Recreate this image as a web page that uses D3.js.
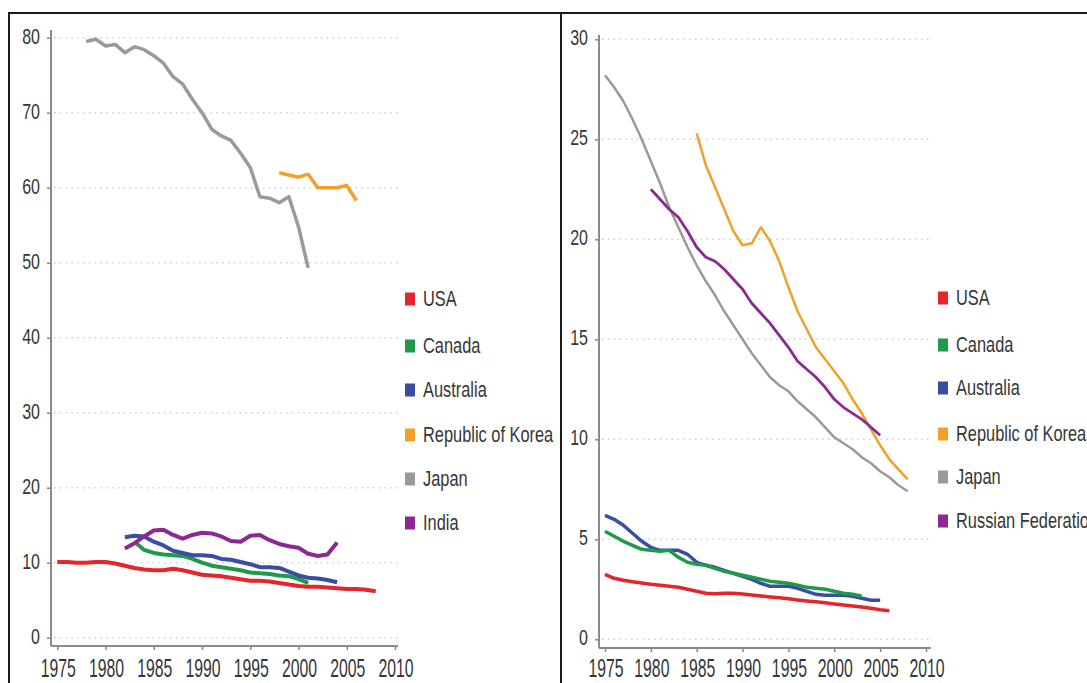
<!DOCTYPE html>
<html>
<head>
<meta charset="utf-8">
<script src="https://cdn.jsdelivr.net/npm/d3@7"></script>
<style>
  html, body { margin: 0; padding: 0; background: #fff; }
  svg { display: block; }
  text { font-family: "Liberation Sans", Arial, sans-serif; fill: #363636; }
</style>
</head>
<body>
<svg id="chart" width="1087" height="683"></svg>
<script>
// ---- data ---------------------------------------------------------------
const yearTicks = [1975, 1980, 1985, 1990, 1995, 2000, 2005, 2010];
const leftYTicks = [0, 10, 20, 30, 40, 50, 60, 70, 80];
const rightYTicks = [0, 5, 10, 15, 20, 25, 30];

const leftLegend = ["USA", "Canada", "Australia", "Republic of Korea", "Japan", "India"];
const rightLegend = ["USA", "Canada", "Australia", "Republic of Korea", "Japan", "Russian Federation"];

// left panel series (first year + yearly values)
const leftUSAStart = 1975;
const leftUSA = [10.1, 10.1, 10.0, 10.0, 10.1, 10.1, 9.9, 9.6, 9.3, 9.1, 9.0, 9.0, 9.2, 9.0, 8.7, 8.4,
  8.3, 8.2, 8.0, 7.8, 7.6, 7.6, 7.5, 7.3, 7.1, 6.9, 6.8, 6.8, 6.7, 6.6, 6.5, 6.5, 6.4, 6.2];
const leftCanadaStart = 1983;
const leftCanada = [12.8, 11.7, 11.3, 11.1, 11.0, 10.9, 10.5, 10.0, 9.6, 9.4, 9.2, 9.0, 8.7, 8.6, 8.5,
  8.3, 8.2, 7.8, 7.3];
const leftAustraliaStart = 1982;
const leftAustralia = [13.4, 13.6, 13.5, 12.8, 12.3, 11.6, 11.3, 11.0, 11.0, 10.9, 10.5, 10.4, 10.1,
  9.8, 9.4, 9.4, 9.3, 8.8, 8.3, 8.0, 7.9, 7.7, 7.4];
const leftKoreaStart = 1998;
const leftKorea = [62.0, 61.7, 61.4, 61.8, 60.0, 60.0, 60.0, 60.3, 58.3];
const leftJapanStart = 1978;
const leftJapan = [79.5, 79.8, 78.9, 79.1, 78.0, 78.8, 78.4, 77.6, 76.6, 74.8, 73.8, 71.8, 70.0, 67.8,
  66.9, 66.3, 64.6, 62.7, 58.8, 58.6, 58.0, 58.8, 54.8, 49.3];
const leftIndiaStart = 1982;
const leftIndia = [11.9, 12.6, 13.5, 14.3, 14.4, 13.7, 13.2, 13.7, 14.0, 13.9, 13.5, 12.9, 12.8, 13.6,
  13.7, 13.0, 12.5, 12.2, 12.0, 11.2, 10.9, 11.1, 12.7];

// right panel series
const rightUSAStart = 1975;
const rightUSA = [3.25, 3.05, 2.95, 2.88, 2.82, 2.75, 2.7, 2.65, 2.6, 2.5, 2.4, 2.3, 2.28, 2.3, 2.3,
  2.27, 2.22, 2.17, 2.12, 2.08, 2.03, 1.97, 1.92, 1.88, 1.83, 1.77, 1.72, 1.67, 1.61, 1.55, 1.48, 1.43];
const rightCanadaStart = 1975;
const rightCanada = [5.4, 5.15, 4.9, 4.7, 4.5, 4.45, 4.4, 4.45, 4.1, 3.85, 3.75, 3.7, 3.55, 3.4, 3.3,
  3.2, 3.1, 3.0, 2.9, 2.85, 2.8, 2.7, 2.6, 2.55, 2.5, 2.4, 2.3, 2.25, 2.15];
const rightAustraliaStart = 1975;
const rightAustralia = [6.2, 6.0, 5.7, 5.3, 4.9, 4.6, 4.45, 4.45, 4.45, 4.25, 3.85, 3.7, 3.6, 3.45,
  3.3, 3.15, 3.0, 2.8, 2.65, 2.65, 2.65, 2.55, 2.4, 2.25, 2.2, 2.2, 2.2, 2.15, 2.05, 1.95, 1.95];
const rightKoreaStart = 1985;
const rightKorea = [25.3, 23.7, 22.6, 21.5, 20.4, 19.7, 19.8, 20.6, 19.9, 18.9, 17.6, 16.4, 15.5, 14.6,
  14.0, 13.4, 12.8, 12.0, 11.3, 10.5, 9.7, 9.0, 8.5, 8.0];
const rightJapanStart = 1975;
const rightJapan = [28.2, 27.6, 26.9, 26.0, 25.0, 23.9, 22.8, 21.6, 20.6, 19.6, 18.7, 17.9, 17.2, 16.4,
  15.7, 15.0, 14.3, 13.7, 13.1, 12.7, 12.4, 11.9, 11.5, 11.1, 10.6, 10.1, 9.8, 9.5, 9.1, 8.8, 8.4,
  8.1, 7.7, 7.4];
const rightRussiaStart = 1980;
const rightRussia = [22.5, 22.0, 21.5, 21.1, 20.4, 19.6, 19.1, 18.9, 18.5, 18.0, 17.5, 16.8, 16.3, 15.8,
  15.2, 14.6, 13.9, 13.5, 13.1, 12.6, 12.0, 11.6, 11.3, 11.0, 10.6, 10.2];

// ---- styling ------------------------------------------------------------
const colors = {
  USA: "#e2262b",
  Canada: "#1f9a48",
  Australia: "#3a4ca3",
  Korea: "#f1a129",
  Japan: "#9a9a9a",
  Purple: "#8c2893"
};
const legendColors = [colors.USA, colors.Canada, colors.Australia, colors.Korea, colors.Japan, colors.Purple];

const svg = d3.select("#chart");

// frame: top rule, outer left rule and the divider between the two panels
const frame = svg.append("g").attr("stroke", "#1a1a1a").attr("stroke-width", 2);
frame.append("line").attr("x1", 8).attr("x2", 1087).attr("y1", 13).attr("y2", 13);
frame.append("line").attr("x1", 9).attr("x2", 9).attr("y1", 12).attr("y2", 683);
frame.append("line").attr("x1", 561).attr("x2", 561).attr("y1", 12).attr("y2", 683);

const toPoints = (start, vals) => vals.map((v, i) => ({ year: start + i, value: v }));

// stretched text helper (the labels are drawn tall and narrow)
function label(g, x, y, str, size, sy, anchor) {
  return g.append("text")
    .attr("transform", `translate(${x},${y}) scale(1,${sy})`)
    .attr("font-size", size)
    .attr("text-anchor", anchor)
    .text(str);
}

function panel(opts) {
  const g = svg.append("g");
  const x = d3.scaleLinear().domain([1975, 2010]).range(opts.xRange);
  const y = d3.scaleLinear().domain(opts.yDomain).range(opts.yRange);

  // dotted gridlines
  g.append("g").selectAll("line").data(opts.yTicks).join("line")
    .attr("x1", opts.axisX + 3).attr("x2", opts.gridEnd)
    .attr("y1", d => y(d)).attr("y2", d => y(d))
    .attr("stroke", "#d2d2d2").attr("stroke-width", 1.6)
    .attr("stroke-dasharray", "1.6,4.2");

  // y axis
  const yAxis = g.append("g").attr("transform", `translate(${opts.axisX},0)`)
    .call(d3.axisLeft(y).tickValues(opts.yTicks).tickSize(4).tickFormat(() => ""));
  yAxis.select(".domain").remove();
  yAxis.selectAll(".tick line").attr("stroke", "#888").attr("stroke-width", 1.5);
  g.append("line").attr("x1", opts.axisX).attr("x2", opts.axisX)
    .attr("y1", opts.axisTop).attr("y2", opts.axisBottomY)
    .attr("stroke", "#8a8a8a").attr("stroke-width", 2);
  const yl = g.append("g");
  opts.yTicks.forEach(t => label(yl, opts.axisX - 11, y(t) + 6, String(t), 16, 1.38, "end"));

  // x axis
  const xAxis = g.append("g").attr("transform", `translate(0,${opts.axisBottomY})`)
    .call(d3.axisBottom(x).tickValues(yearTicks).tickSize(4).tickFormat(() => ""));
  xAxis.select(".domain").remove();
  xAxis.selectAll(".tick line").attr("stroke", "#888").attr("stroke-width", 1.5);
  g.append("line").attr("x1", opts.axisX).attr("x2", opts.xAxisEnd)
    .attr("y1", opts.axisBottomY).attr("y2", opts.axisBottomY)
    .attr("stroke", "#8a8a8a").attr("stroke-width", 2);
  const xl = g.append("g");
  yearTicks.forEach(t => label(xl, x(t) + 1, 677, String(t), 15.8, 1.62, "middle"));

  // series
  const line = d3.line().x(d => x(d.year)).y(d => y(d.value));
  opts.series.forEach(s => {
    g.append("path")
      .datum(toPoints(s.start, s.values))
      .attr("fill", "none")
      .attr("stroke", s.color)
      .attr("stroke-width", s.width)
      .attr("stroke-linejoin", "round")
      .attr("stroke-linecap", "butt")
      .attr("d", line);
  });

  // legend
  const lg = g.append("g");
  opts.legend.forEach((name, i) => {
    const cy = opts.legendY[i];
    lg.append("rect").attr("x", opts.legendX).attr("y", cy - 6.5)
      .attr("width", 10).attr("height", 13).attr("fill", legendColors[i]);
    label(lg, opts.legendX + 18, cy + 7.4, name, 16.4, 1.3, "start");
  });
}

panel({
  xRange: [57.3, 395],
  yDomain: [0, 80],
  yRange: [637.7, 37.7],
  yTicks: leftYTicks,
  axisX: 51,
  axisTop: 30,
  axisBottomY: 646,
  xAxisEnd: 398,
  gridEnd: 400,
  legend: leftLegend,
  legendX: 405,
  legendY: [299, 346, 390, 435, 479, 523],
  series: [
    { start: leftUSAStart, values: leftUSA, color: colors.USA, width: 4 },
    { start: leftCanadaStart, values: leftCanada, color: colors.Canada, width: 4 },
    { start: leftAustraliaStart, values: leftAustralia, color: colors.Australia, width: 4 },
    { start: leftKoreaStart, values: leftKorea, color: colors.Korea, width: 3.5 },
    { start: leftJapanStart, values: leftJapan, color: colors.Japan, width: 3.5 },
    { start: leftIndiaStart, values: leftIndia, color: colors.Purple, width: 4 }
  ]
});

panel({
  xRange: [605, 926],
  yDomain: [0, 30],
  yRange: [639.3, 39.3],
  yTicks: rightYTicks,
  axisX: 599,
  axisTop: 35,
  axisBottomY: 648,
  xAxisEnd: 931,
  gridEnd: 930,
  legend: rightLegend,
  legendX: 938,
  legendY: [298, 345, 388, 434, 477, 521],
  series: [
    { start: rightUSAStart, values: rightUSA, color: colors.USA, width: 3.5 },
    { start: rightAustraliaStart, values: rightAustralia, color: colors.Australia, width: 3.5 },
    { start: rightCanadaStart, values: rightCanada, color: colors.Canada, width: 3.5 },
    { start: rightJapanStart, values: rightJapan, color: colors.Japan, width: 2.5 },
    { start: rightKoreaStart, values: rightKorea, color: colors.Korea, width: 2.5 },
    { start: rightRussiaStart, values: rightRussia, color: colors.Purple, width: 2.8 }
  ]
});
</script>
</body>
</html>
